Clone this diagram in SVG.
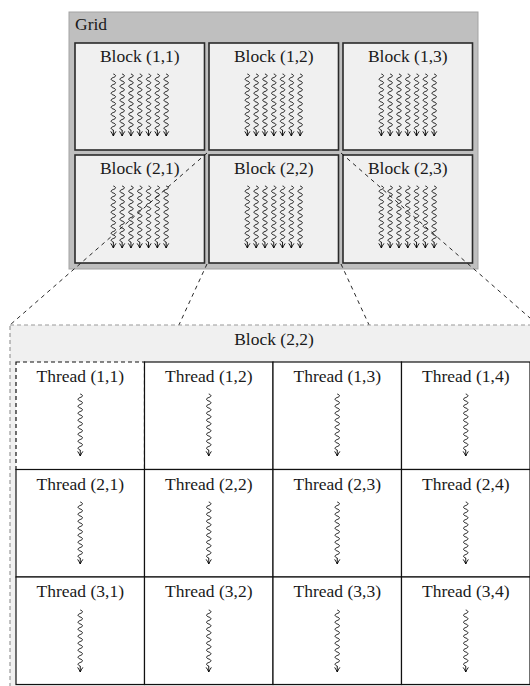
<svg xmlns="http://www.w3.org/2000/svg" xmlns:xlink="http://www.w3.org/1999/xlink" width="530" height="686" viewBox="0 0 530 686">
<style>
text{font-family:"Liberation Serif","Times New Roman",serif;font-size:17.5px;fill:#1a1a1a;}
.c{text-anchor:middle;}
.grid{fill:#bfbfbf;stroke:#a3a3a3;stroke-width:1;}
.blk{fill:#f0f0f0;stroke:#2a2a2a;stroke-width:1.6;}
.big{fill:#f0f0f0;stroke:#9a9a9a;stroke-width:1.2;stroke-dasharray:4 3;}
.cell{fill:#fff;stroke:#111;stroke-width:1.2;}
.cell.d{stroke-dasharray:4 3;}
.conn{fill:none;stroke:#111;stroke-width:0.9;stroke-dasharray:4 4;}
.wv{fill:none;stroke:#000;stroke-width:0.9;}
</style>
<defs>
<g id="wv" class="wv">
<path d="M0,0 c2.9,0.9 2.9,2.6 0,3.5 c-2.9,0.9 -2.9,2.6 0,3.5 c2.9,0.9 2.9,2.6 0,3.5 c-2.9,0.9 -2.9,2.6 0,3.5 c2.9,0.9 2.9,2.6 0,3.5 c-2.9,0.9 -2.9,2.6 0,3.5 c2.9,0.9 2.9,2.6 0,3.5 c-2.9,0.9 -2.9,2.6 0,3.5 c2.9,0.9 2.9,2.6 0,3.5 c-2.9,0.9 -2.9,2.6 0,3.5 c2.9,0.9 2.9,2.6 0,3.5 c-2.9,0.9 -2.9,2.6 0,3.5 c2.9,0.9 2.9,2.6 0,3.5 c-2.9,0.9 -2.9,2.6 0,3.5 c2.9,0.9 2.9,2.6 0,3.5 c-2.9,0.9 -2.9,2.6 0,3.5 L0,62"/>
<path d="M-2.6,57.4 Q-0.8,60 0,62 Q0.8,60 2.6,57.4"/>
</g>
<g id="wv7">
<use href="#wv" x="-26.4"/><use href="#wv" x="-17.6"/><use href="#wv" x="-8.8"/><use href="#wv" x="0"/><use href="#wv" x="8.8"/><use href="#wv" x="17.6"/><use href="#wv" x="26.4"/>
</g>
</defs>

<g id="grid">
<rect class="grid" x="69" y="12" width="409" height="257"/>
<text x="75" y="30">Grid</text>
</g>
<g id="block-1-1"><rect class="blk" x="75" y="43" width="129.5" height="107"/><text class="c" x="139.75" y="62">Block (1,1)</text><use href="#wv7" x="139.75" y="74"/></g>
<g id="block-1-2"><rect class="blk" x="209" y="43" width="129.5" height="107"/><text class="c" x="273.75" y="62">Block (1,2)</text><use href="#wv7" x="273.75" y="74"/></g>
<g id="block-1-3"><rect class="blk" x="343" y="43" width="129.5" height="107"/><text class="c" x="407.75" y="62">Block (1,3)</text><use href="#wv7" x="407.75" y="74"/></g>
<g id="block-2-1"><rect class="blk" x="75" y="155" width="129.5" height="108"/><text class="c" x="139.75" y="174">Block (2,1)</text><use href="#wv7" x="139.75" y="186"/></g>
<g id="block-2-2"><rect class="blk" x="209" y="155" width="129.5" height="108"/><text class="c" x="273.75" y="174">Block (2,2)</text><use href="#wv7" x="273.75" y="186"/></g>
<g id="block-2-3"><rect class="blk" x="343" y="155" width="129.5" height="108"/><text class="c" x="407.75" y="174">Block (2,3)</text><use href="#wv7" x="407.75" y="186"/></g>

<g id="connectors">
<line class="conn" x1="207" y1="153" x2="10" y2="325"/>
<line class="conn" x1="341" y1="153" x2="538" y2="325"/>
<line class="conn" x1="207" y1="264" x2="10" y2="692"/>
<line class="conn" x1="341" y1="264" x2="538" y2="692"/>
</g>

<g id="block-2-2-zoom">
<rect class="big" x="10" y="325" width="528" height="367"/>
<text class="c" x="274" y="345">Block (2,2)</text>
</g>

<g id="thread-1-1"><rect class="cell d" x="16" y="362" width="128.5" height="107.5"/><text class="c" x="80.25" y="382">Thread (1,1)</text><use href="#wv" x="80.25" y="394"/></g>
<g id="thread-1-2"><rect class="cell" x="144.5" y="362" width="128.5" height="107.5"/><text class="c" x="208.75" y="382">Thread (1,2)</text><use href="#wv" x="208.75" y="394"/></g>
<g id="thread-1-3"><rect class="cell" x="273" y="362" width="128.5" height="107.5"/><text class="c" x="337.25" y="382">Thread (1,3)</text><use href="#wv" x="337.25" y="394"/></g>
<g id="thread-1-4"><rect class="cell" x="401.5" y="362" width="128.5" height="107.5"/><text class="c" x="465.75" y="382">Thread (1,4)</text><use href="#wv" x="465.75" y="394"/></g>
<g id="thread-2-1"><rect class="cell" x="16" y="469.5" width="128.5" height="107.5"/><text class="c" x="80.25" y="489.5">Thread (2,1)</text><use href="#wv" x="80.25" y="502"/></g>
<g id="thread-2-2"><rect class="cell" x="144.5" y="469.5" width="128.5" height="107.5"/><text class="c" x="208.75" y="489.5">Thread (2,2)</text><use href="#wv" x="208.75" y="502"/></g>
<g id="thread-2-3"><rect class="cell" x="273" y="469.5" width="128.5" height="107.5"/><text class="c" x="337.25" y="489.5">Thread (2,3)</text><use href="#wv" x="337.25" y="502"/></g>
<g id="thread-2-4"><rect class="cell" x="401.5" y="469.5" width="128.5" height="107.5"/><text class="c" x="465.75" y="489.5">Thread (2,4)</text><use href="#wv" x="465.75" y="502"/></g>
<g id="thread-3-1"><rect class="cell" x="16" y="577" width="128.5" height="107.5"/><text class="c" x="80.25" y="597">Thread (3,1)</text><use href="#wv" x="80.25" y="610"/></g>
<g id="thread-3-2"><rect class="cell" x="144.5" y="577" width="128.5" height="107.5"/><text class="c" x="208.75" y="597">Thread (3,2)</text><use href="#wv" x="208.75" y="610"/></g>
<g id="thread-3-3"><rect class="cell" x="273" y="577" width="128.5" height="107.5"/><text class="c" x="337.25" y="597">Thread (3,3)</text><use href="#wv" x="337.25" y="610"/></g>
<g id="thread-3-4"><rect class="cell" x="401.5" y="577" width="128.5" height="107.5"/><text class="c" x="465.75" y="597">Thread (3,4)</text><use href="#wv" x="465.75" y="610"/></g>
</svg>
